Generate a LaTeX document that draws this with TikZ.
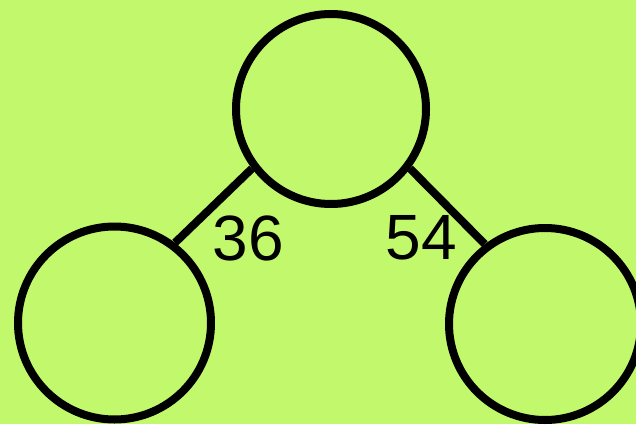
\documentclass[tikz,border=0pt]{standalone}
\usepackage{fontspec}
\setmainfont{Liberation Sans}
\usepackage{tikz}
\usetikzlibrary{positioning}
\definecolor{bondbg}{RGB}{194,249,108}

\begin{document}
\begin{tikzpicture}[
  x=1pt, y=1pt,
  every node/.style={font=\fontsize{64}{70}\selectfont},
  bond/.style={circle, draw=black, line width=8pt, minimum size=192pt, inner sep=0pt},
  link/.style={line width=8pt, black}
]
  \clip (0,0) rectangle (636,424);
  \fill[bondbg] (0,0) rectangle (636,424);

  \node[bond, minimum size=190pt] (whole) at (331,315) {};
  \node[bond, minimum size=193pt] (partl) at (114.5,101) {};
  \node[bond] (partr) at (545,100) {};

  \node (vall) at (248.5,186) {36};
  \node (valr) at (421.5,186) {54};

  \draw[link] (whole.217) -- (partl.53);
  \draw[link] (whole.323) -- (partr.127);
\end{tikzpicture}
\end{document}
